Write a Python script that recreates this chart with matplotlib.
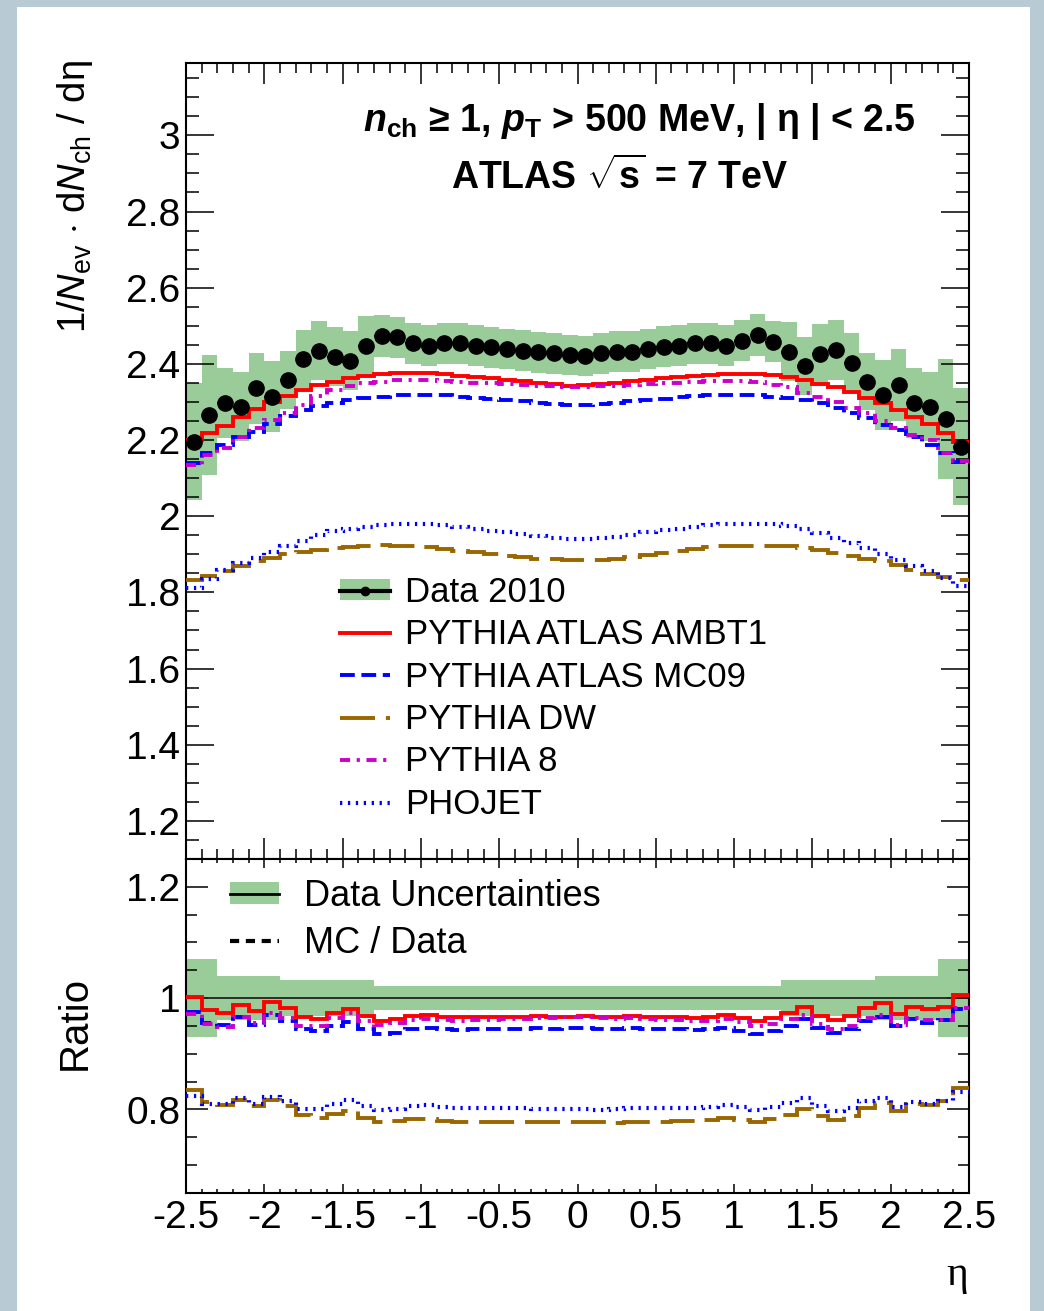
import numpy as np
import matplotlib
matplotlib.use("Agg")
import matplotlib.pyplot as plt
from matplotlib.patches import Patch, Rectangle
from matplotlib.lines import Line2D
from matplotlib.ticker import MultipleLocator, FuncFormatter

plt.rcParams["font.family"] = ["Liberation Sans", "DejaVu Sans"]
plt.rcParams["mathtext.fontset"] = "custom"
plt.rcParams["mathtext.rm"] = "Liberation Sans"
plt.rcParams["mathtext.it"] = "Liberation Sans:italic"
plt.rcParams["mathtext.bf"] = "Liberation Sans:bold"
plt.rcParams["mathtext.bfit"] = "Liberation Sans:bold:italic"
plt.rcParams["axes.unicode_minus"] = False

# eta binning: 50 bins of 0.1 between -2.5 and 2.5
eta_min, eta_max, n_bins = -2.5, 2.5, 50

data_2010 = [2.196, 2.266, 2.297, 2.288, 2.336, 2.314, 2.358, 2.413, 2.435, 2.419,
             2.408, 2.448, 2.473, 2.470, 2.454, 2.448, 2.454, 2.454, 2.448, 2.444,
             2.439, 2.435, 2.430, 2.428, 2.423, 2.421, 2.428, 2.432, 2.432, 2.439,
             2.445, 2.448, 2.454, 2.454, 2.448, 2.461, 2.476, 2.458, 2.432, 2.395,
             2.426, 2.436, 2.403, 2.353, 2.318, 2.345, 2.297, 2.288, 2.255, 2.183]

# relative total uncertainty of the data, per bin
data_unc = [0.070, 0.070, 0.040, 0.040, 0.040, 0.040, 0.032, 0.032, 0.032, 0.032,
            0.032, 0.032, 0.022, 0.022, 0.022, 0.022, 0.022, 0.022, 0.022, 0.022,
            0.022, 0.022, 0.022, 0.022, 0.022, 0.022, 0.022, 0.022, 0.022, 0.022,
            0.022, 0.022, 0.022, 0.022, 0.022, 0.022, 0.022, 0.022, 0.032, 0.032,
            0.032, 0.032, 0.032, 0.032, 0.040, 0.040, 0.040, 0.040, 0.070, 0.070]

pythia_ambt1 = [2.200, 2.218, 2.237, 2.260, 2.282, 2.300, 2.315, 2.332, 2.345, 2.353,
                2.362, 2.368, 2.373, 2.376, 2.377, 2.376, 2.373, 2.369, 2.366, 2.362,
                2.358, 2.354, 2.350, 2.346, 2.343, 2.344, 2.348, 2.351, 2.354, 2.358,
                2.362, 2.366, 2.368, 2.371, 2.373, 2.374, 2.374, 2.372, 2.366, 2.358,
                2.347, 2.339, 2.325, 2.311, 2.297, 2.279, 2.260, 2.242, 2.218, 2.196]

pythia_mc09 = [2.141, 2.166, 2.186, 2.209, 2.222, 2.242, 2.263, 2.279, 2.290, 2.297,
               2.305, 2.311, 2.314, 2.317, 2.318, 2.318, 2.317, 2.314, 2.311, 2.308,
               2.305, 2.302, 2.298, 2.295, 2.292, 2.292, 2.295, 2.298, 2.302, 2.305,
               2.309, 2.312, 2.315, 2.317, 2.318, 2.318, 2.317, 2.314, 2.311, 2.305,
               2.297, 2.284, 2.272, 2.258, 2.240, 2.227, 2.209, 2.187, 2.166, 2.142]

pythia_dw = [1.832, 1.844, 1.855, 1.868, 1.882, 1.890, 1.901, 1.906, 1.912, 1.916,
             1.919, 1.923, 1.924, 1.923, 1.921, 1.918, 1.914, 1.910, 1.905, 1.901,
             1.896, 1.893, 1.889, 1.887, 1.885, 1.884, 1.886, 1.888, 1.893, 1.897,
             1.903, 1.910, 1.914, 1.918, 1.921, 1.923, 1.923, 1.923, 1.921, 1.917,
             1.911, 1.903, 1.896, 1.888, 1.882, 1.871, 1.859, 1.848, 1.840, 1.832]

pythia_8 = [2.135, 2.161, 2.180, 2.209, 2.231, 2.253, 2.272, 2.293, 2.315, 2.332,
            2.342, 2.349, 2.353, 2.358, 2.358, 2.357, 2.356, 2.353, 2.350, 2.349,
            2.346, 2.345, 2.343, 2.342, 2.340, 2.340, 2.342, 2.343, 2.345, 2.347,
            2.349, 2.351, 2.353, 2.355, 2.356, 2.356, 2.352, 2.345, 2.339, 2.323,
            2.314, 2.301, 2.284, 2.270, 2.249, 2.231, 2.214, 2.200, 2.166, 2.144]

phojet = [1.812, 1.834, 1.860, 1.877, 1.890, 1.905, 1.921, 1.934, 1.951, 1.960,
          1.966, 1.972, 1.976, 1.979, 1.979, 1.979, 1.976, 1.972, 1.967, 1.962,
          1.958, 1.953, 1.947, 1.943, 1.940, 1.940, 1.942, 1.946, 1.951, 1.958,
          1.963, 1.967, 1.972, 1.976, 1.979, 1.980, 1.980, 1.979, 1.974, 1.966,
          1.956, 1.943, 1.930, 1.917, 1.902, 1.886, 1.868, 1.855, 1.838, 1.816]

mc_labels = ["PYTHIA ATLAS AMBT1", "PYTHIA ATLAS MC09", "PYTHIA DW",
             "PYTHIA 8", "PHOJET"]

GREEN = "#99cc99"
LW = 2.8
mc_styles = [
    dict(color="#ff0000", lw=LW, ls="-"),
    dict(color="#0000ff", lw=LW, ls=(0, (3.8, 1.7))),
    dict(color="#996600", lw=LW, ls=(0, (9.0, 2.8))),
    dict(color="#cc00cc", lw=LW, ls=(0, (2.6, 1.7, 0.8, 1.7))),
    dict(color="#0000ff", lw=3.0, ls=(0, (0.55, 1.35))),
]

edges = np.linspace(eta_min, eta_max, n_bins + 1)
centers = 0.5 * (edges[:-1] + edges[1:])
data = np.array(data_2010)
unc = np.array(data_unc)
mc_sets = [np.array(v) for v in (pythia_ambt1, pythia_mc09, pythia_dw, pythia_8, phojet)]

W, H = 1044, 1311
fig = plt.figure(figsize=(W / 100, H / 100), dpi=100, facecolor="#b8cad3")
fig.add_artist(Rectangle((17 / W, 0), (1030 - 17) / W, (H - 7) / H,
                         transform=fig.transFigure, facecolor="white",
                         edgecolor="none", zorder=-10))

x0, x1 = 186 / W, 969 / W
ax = fig.add_axes([x0, 1 - 859 / H, x1 - x0, (859 - 63) / H])
axr = fig.add_axes([x0, 1 - 1193 / H, x1 - x0, (1193 - 859) / H], sharex=ax)

# --- main panel ---
ax.stairs(data * (1 + unc), edges, baseline=data * (1 - unc), fill=True,
          color=GREEN, lw=0, zorder=1)
for vals, st in zip(mc_sets, mc_styles):
    ax.stairs(vals, edges, baseline=None, color=st["color"], lw=st["lw"],
              linestyle=st["ls"], zorder=3)
ax.errorbar(centers, data, xerr=0.05, fmt="o", color="k", ms=11,
            elinewidth=1.6, capsize=0, zorder=5)

ax.set_xlim(eta_min, eta_max)
ax.set_ylim(1.1, 3.19)

# --- ratio panel ---
axr.stairs(1 + unc, edges, baseline=1 - unc, fill=True, color=GREEN, lw=0, zorder=1)
axr.axhline(1.0, color="#222222", lw=1.3, zorder=2)
for vals, st in zip(mc_sets, mc_styles):
    axr.stairs(vals / data, edges, baseline=None, color=st["color"], lw=st["lw"],
               linestyle=st["ls"], zorder=3)
axr.set_ylim(0.65, 1.25)

fmt = FuncFormatter(lambda v, p: "%g" % round(v, 3))
for a in (ax, axr):
    for s in a.spines.values():
        s.set_linewidth(1.5)
    a.xaxis.set_major_locator(MultipleLocator(0.5))
    a.xaxis.set_minor_locator(MultipleLocator(0.1))
    a.yaxis.set_major_formatter(fmt)
    a.xaxis.set_major_formatter(fmt)
    a.tick_params(which="both", direction="in", top=True, right=True, width=1.1,
                  labelsize=28)
    a.tick_params(axis="y", which="both", pad=4)

ax.yaxis.set_major_locator(MultipleLocator(0.2))
ax.yaxis.set_minor_locator(MultipleLocator(0.05))
ax.tick_params(axis="y", which="major", length=20)
ax.tick_params(axis="y", which="minor", length=9.5)
ax.tick_params(axis="x", which="major", length=15)
ax.tick_params(axis="x", which="minor", length=7)
ax.tick_params(axis="x", labelbottom=False)

axr.yaxis.set_major_locator(MultipleLocator(0.2))
axr.yaxis.set_minor_locator(MultipleLocator(0.05))
axr.tick_params(axis="y", which="major", length=16)
axr.tick_params(axis="y", which="minor", length=8)
axr.tick_params(axis="x", which="major", length=6.5, pad=5)
axr.tick_params(axis="x", which="minor", length=3.2)

# --- legends ---
data_handle = (Patch(facecolor=GREEN, edgecolor="none"),
               Line2D([], [], color="k", lw=3, marker="o", ms=6))
mc_handles = [Line2D([], [], color=st["color"], lw=st["lw"], linestyle=st["ls"])
              for st in mc_styles]
ax.legend([data_handle] + mc_handles, ["Data 2010"] + mc_labels,
          loc="upper left", bbox_to_anchor=(340 / W, 1 - 576 / H),
          bbox_transform=fig.transFigure, frameon=False, fontsize=25,
          handlelength=1.45, handleheight=0.55, handletextpad=0.42,
          labelspacing=0.27, borderpad=0, borderaxespad=0)

unc_handle = (Patch(facecolor=GREEN, edgecolor="none"),
              Line2D([], [], color="k", lw=2))
ratio_handle = Line2D([], [], color="k", lw=3, linestyle=(0, (2.2, 1.6)))
axr.legend([unc_handle, ratio_handle], ["Data Uncertainties", "MC / Data"],
           loc="upper left", bbox_to_anchor=(230 / W, 1 - 879 / H),
           bbox_transform=fig.transFigure, frameon=False, fontsize=26,
           handlelength=1.35, handleheight=0.55, handletextpad=0.7,
           labelspacing=0.32, borderpad=0, borderaxespad=0)

# --- labels ---
fig.text(639 / W, 1 - 131 / H,
         r"$\mathbfit{n}_{\mathbf{ch}}$ ≥ 1, $\mathbfit{p}_{\mathbf{T}}$ > 500 MeV, | η | < 2.5",
         ha="center", va="baseline", fontsize=27, fontweight="bold")
fig.text(620 / W, 1 - 189 / H, r"ATLAS $\sqrt{\mathbf{s}}$ = 7 TeV",
         ha="center", va="baseline", fontsize=27, fontweight="bold")

fig.text(75 / W, 1 - 60 / H,
         r"1/$N_{\mathrm{ev}}$ $\cdot$ d$N_{\mathrm{ch}}$ / dη",
         rotation=90, ha="center", va="top", fontsize=27.5)
fig.text(75 / W, 1 - 1023 / H, "Ratio", rotation=90, ha="center", va="center",
         fontsize=29)
fig.text(957 / W, 1 - 1275 / H, "η", ha="center", va="center", fontsize=30,
         family=["Liberation Serif", "DejaVu Serif"])

fig.savefig("out.png", dpi=100, facecolor=fig.get_facecolor())
